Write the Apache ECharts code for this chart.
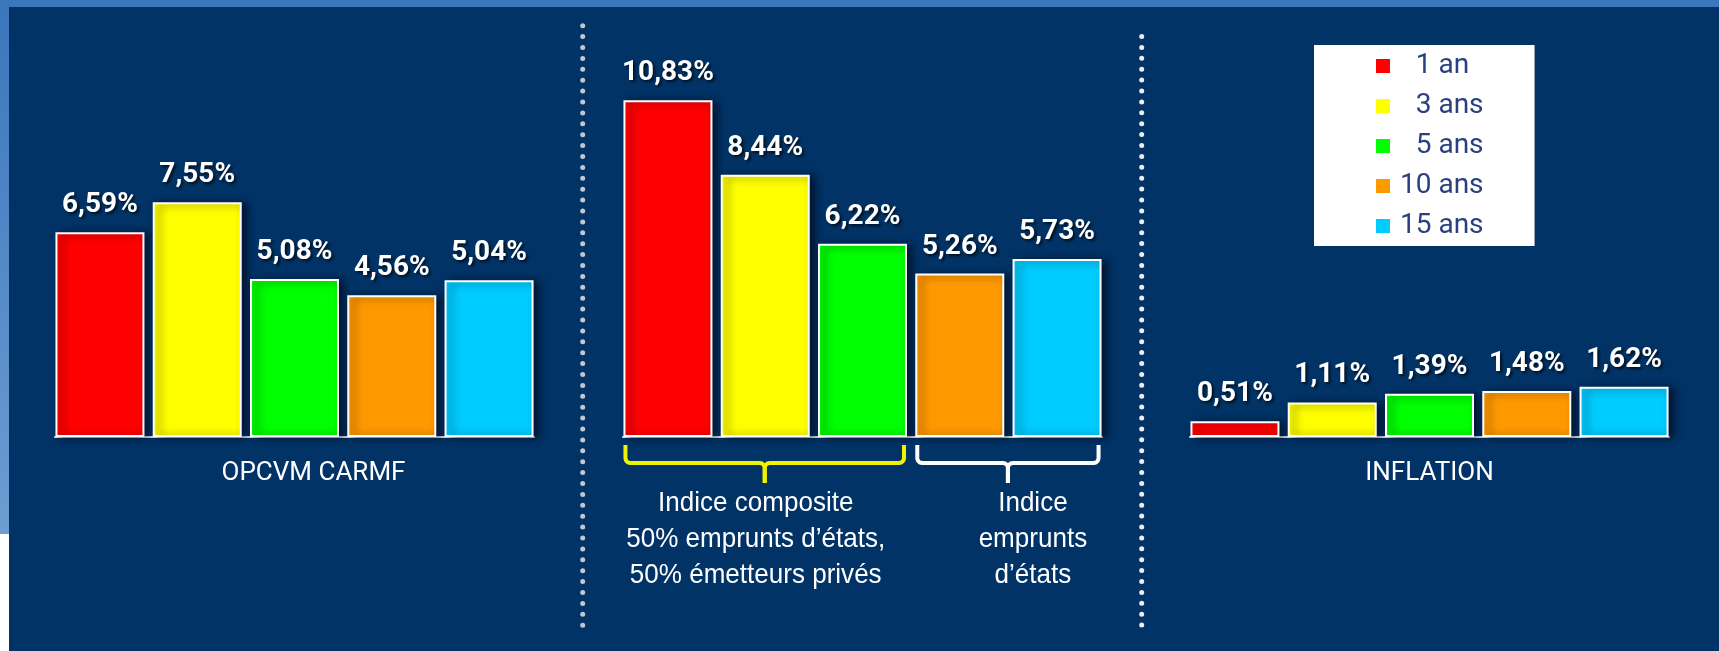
<!DOCTYPE html>
<html>
<head>
<meta charset="utf-8">
<script src="https://cdn.jsdelivr.net/npm/echarts@6/dist/echarts.min.js"></script>
<style>
html,body{margin:0;padding:0;background:#fff;}
#c{width:1719px;height:651px;}
</style>
</head>
<body>
<div id="c"></div>
<script>
// ---- data ----
const periods = ['1 an', '3 ans', '5 ans', '10 ans', '15 ans'];
const periodColors = ['#FF0000', '#FFFF00', '#00FF00', '#FF9900', '#00CCFF'];
const groupNames = ['OPCVM CARMF', 'Indices', 'INFLATION'];
const opcvmCarmf = [6.59, 7.55, 5.08, 4.56, 5.04];
const indices = [10.83, 8.44, 6.22, 5.26, 5.73];
const inflation = [0.51, 1.11, 1.39, 1.48, 1.62];
const bracketTexts = [
  'Indice composite\n50% emprunts d\u2019états,\n50% émetteurs privés',
  'Indice\nemprunts\nd\u2019états'
];

// ---- layout ----
const groups = [opcvmCarmf, indices, inflation];
const FONT = 'Roboto, "Liberation Sans", sans-serif';
const TFONT = '"Liberation Sans", Roboto, sans-serif';
const groupLeft = [55, 623, 1190];
const groupWidth = 479;
const gridTop = 64, gridHeight = 373;

const chart = echarts.init(document.getElementById('c'), null, {renderer: 'canvas'});

const grids = [], xAxes = [], yAxes = [], series = [];
groups.forEach((vals, g) => {
  grids.push({left: groupLeft[g], width: groupWidth, top: gridTop, height: gridHeight, containLabel: false});
  xAxes.push({
    type: 'category', gridIndex: g, data: [groupNames[g]],
    axisLine: {show: true, lineStyle: {color: '#E6E8EE', width: 2}},
    axisTick: {show: false},
    axisLabel: {
      show: g !== 1, color: '#FFFFFF', fontFamily: FONT, fontSize: 26, margin: 23,
      padding: g === 0 ? [0, 0, 0, 38] : 0
    },
    z: 1
  });
  yAxes.push({type: 'value', gridIndex: g, min: 0, max: 12, show: false, splitLine: {show: false}});
  vals.forEach((v, p) => {
    series.push({
      type: 'bar', name: periods[p], xAxisIndex: g, yAxisIndex: g,
      data: [v], barWidth: 89, barGap: '9.3%',
      itemStyle: {
        color: periodColors[p], borderColor: '#FFFFFF', borderWidth: 2,
        shadowColor: 'rgba(0,0,15,0.6)', shadowBlur: 8, shadowOffsetX: 5, shadowOffsetY: 1
      },
      label: {
        show: true, position: 'top', distance: 13,
        formatter: (prm) => prm.value.toFixed(2).replace('.', ',') + '%',
        color: '#FFFFFF', fontFamily: FONT, fontWeight: 'bold', fontSize: 28,
        textShadowColor: 'rgba(0,0,0,0.7)', textShadowBlur: 3, textShadowOffsetX: 2, textShadowOffsetY: 2
      },
      emphasis: {disabled: true},
      z: 3
    });
  });
});

function frameGraphics() {
  return [
    {type: 'rect', z: -10, shape: {x: 0, y: 0, width: 1719, height: 7}, style: {fill: '#3A77BD'}, silent: true},
    {type: 'rect', z: -10, shape: {x: 0, y: 0, width: 9, height: 534}, silent: true,
      style: {fill: {type: 'linear', x: 0, y: 0, x2: 0, y2: 1, colorStops: [
        {offset: 0, color: '#3A76BC'}, {offset: 1, color: '#6D9DD2'}]}}},
    {type: 'rect', z: -10, shape: {x: 0, y: 534, width: 9, height: 117}, style: {fill: '#FFFFFF'}, silent: true},
    {type: 'line', z: 1, silent: true, shape: {x1: 582.7, y1: 25.7, x2: 582.7, y2: 630},
      style: {stroke: '#C3C7D0', lineWidth: 5, lineCap: 'round', lineDash: [0, 10.9]}},
    {type: 'line', z: 1, silent: true, shape: {x1: 1141.7, y1: 36.5, x2: 1141.7, y2: 630},
      style: {stroke: '#ECEEF4', lineWidth: 5, lineCap: 'round', lineDash: [0, 10.9]}}
  ];
}

chart.setOption({
  backgroundColor: '#013366',
  animation: false,
  grid: grids, xAxis: xAxes, yAxis: yAxes, series: series,
  legend: {
    data: periods, orient: 'vertical', left: 1314, top: 45,
    backgroundColor: '#FFFFFF', padding: [5, 51, 4, 62],
    itemWidth: 14, itemHeight: 14, itemGap: 8, icon: 'rect',
    formatter: (n) => (/^\d /.test(n) ? '\u2007' + n : n),
    textStyle: {fontFamily: FONT, fontSize: 28, color: '#2A4180', padding: [0, 0, 0, 5], lineHeight: 32},
    itemStyle: {borderWidth: 0, shadowBlur: 0, shadowOffsetX: 0, shadowOffsetY: 0}
  },
  graphic: frameGraphics()
});

// brackets + texts from the library's own bar layouts (middle group)
function barRect(g, p) {
  return chart.getModel().getSeriesByIndex(g * 5 + p).getData().getItemLayout(0);
}
function arc(cx0, cy0, r, a0, a1) {
  const pts = [];
  for (let i = 0; i <= 6; i++) {
    const a = (a0 + (a1 - a0) * i / 6) * Math.PI / 180;
    pts.push([cx0 + r * Math.cos(a), cy0 + r * Math.sin(a)]);
  }
  return pts;
}
const bracketDefs = [
  {from: 0, to: 2, color: '#F2F200', textDx: -9},
  {from: 3, to: 4, color: '#FFFFFF', textDx: 25}
];
const extra = [];
bracketDefs.forEach((b, i) => {
  const r1 = barRect(1, b.from), r2 = barRect(1, b.to);
  const base = Math.max(r1.y, r1.y + r1.height);
  const x1 = Math.min(r1.x, r1.x + r1.width) + 2;
  const x2 = Math.max(r2.x, r2.x + r2.width) - 3;
  const cx = (x1 + x2) / 2;
  const yTop = base + 8, yH = base + 26, yStem = base + 46, rr = 5;
  const left = [[x1, yTop]].concat(arc(x1 + rr, yH - rr, rr, 180, 90), arc(cx - rr, yH + rr, rr, -90, 0), [[cx, yStem]]);
  const right = [[x2, yTop]].concat(arc(x2 - rr, yH - rr, rr, 0, 90), arc(cx + rr, yH + rr, rr, -90, -180), [[cx, yStem]]);
  [left, right].forEach(pts => extra.push({type: 'polyline', z: 5, silent: true, shape: {points: pts},
    style: {fill: null, stroke: b.color, lineWidth: 4, lineJoin: 'round'}}));
  extra.push({type: 'text', z: 5, silent: true, x: cx + b.textDx, y: base + 48, scaleX: 0.93,
    style: {text: bracketTexts[i], fill: '#FFFFFF', font: '28px ' + TFONT, align: 'center', verticalAlign: 'top', lineHeight: 36}});
});
chart.setOption({graphic: frameGraphics().concat(extra)}, {replaceMerge: ['graphic']});
</script>
</body>
</html>
